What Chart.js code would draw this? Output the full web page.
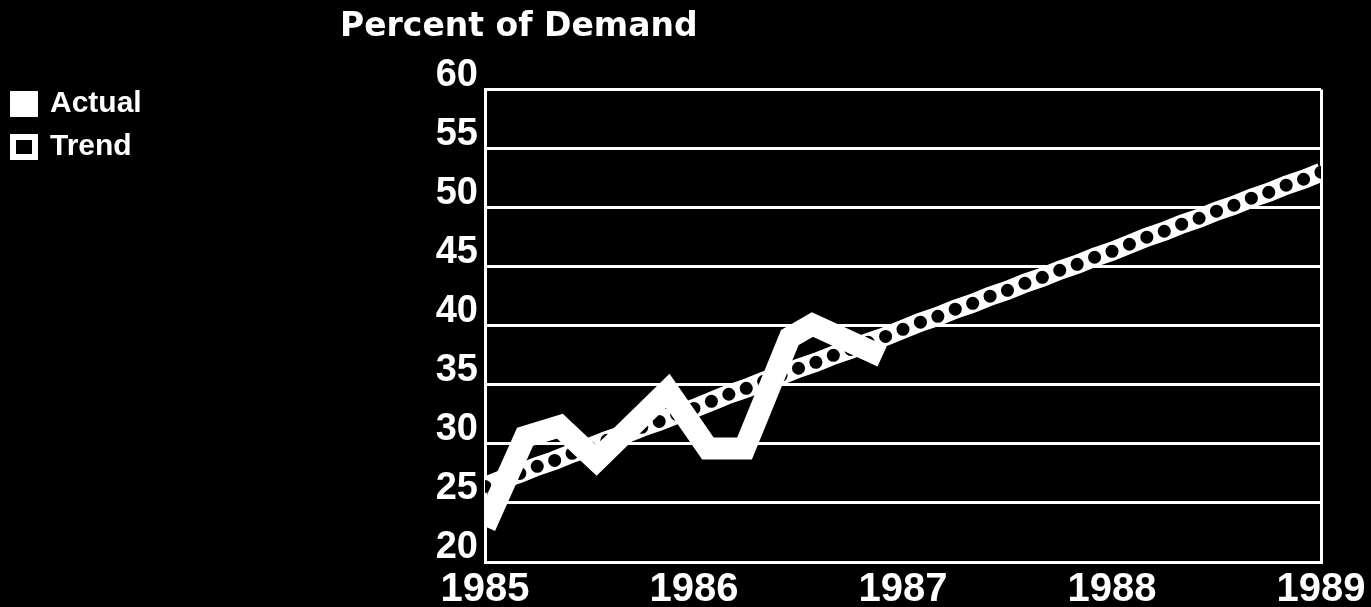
<!DOCTYPE html>
<html>
<head>
<meta charset="utf-8">
<title>Percent of Demand</title>
<script src="https://cdn.jsdelivr.net/npm/chart.js@4"></script>
<style>
  html, body { margin: 0; padding: 0; background: #000; }
  #wrap { width: 1371px; height: 607px; position: relative; }
</style>
</head>
<body>
<div id="wrap"><canvas id="demandChart"></canvas></div>
<script>
const yearLabels = ['1985', '1986', '1987', '1988', '1989'];

// months after Jan 1985 where the actual curve bends
const actualMonths = [0, 2.3, 4.3, 6.4, 10.5, 12.8, 14.9, 17.5, 18.8, 22.8];
const actualValues = [23.0, 30.6, 31.5, 28.6, 34.5, 29.6, 29.6, 39.0, 40.1, 37.4];

// monthly trend, Jan 1985 .. Jan 1989
const trendValues = [
  26.4, 27.0, 27.5, 28.1, 28.6, 29.2, 29.7, 30.3, 30.8, 31.4, 31.9, 32.5,
  33.0, 33.6, 34.2, 34.7, 35.3, 35.8, 36.4, 36.9, 37.5, 38.0, 38.6, 39.1,
  39.7, 40.3, 40.8, 41.4, 41.9, 42.5, 43.0, 43.6, 44.1, 44.7, 45.2, 45.8,
  46.3, 46.9, 47.5, 48.0, 48.6, 49.1, 49.7, 50.2, 50.8, 51.3, 51.9, 52.4,
  53.0
];

const PLOT_LEFT = 485;
const PLOT_TOP = 89.5;
const X_AXIS_HEIGHT = 45;

Chart.defaults.color = '#fff';
Chart.defaults.font.family = '"Liberation Sans", Arial, sans-serif';
Chart.defaults.font.weight = 'bold';

const titlePlugin = {
  id: 'sideTitle',
  afterDraw(chart) {
    const ctx = chart.ctx;
    ctx.save();
    ctx.fillStyle = '#fff';
    ctx.font = 'bold 33px "DejaVu Sans"';
    ctx.textBaseline = 'alphabetic';
    ctx.fillText('Percent of Demand', 340, 36);
    ctx.restore();
  }
};

const dataConfig = {
  datasets: [{
    label: 'Actual',
    data: actualMonths.map((m, i) => ({ x: m, y: actualValues[i] })),
    borderColor: '#fff',
    backgroundColor: '#fff',
    borderWidth: 22,
    borderJoinStyle: 'miter',
    borderCapStyle: 'butt',
    pointRadius: 0,
    tension: 0,
    clip: 0
  }, {
    label: 'Trend',
    data: trendValues.map((v, i) => ({ x: i, y: v })),
    borderColor: '#fff',
    backgroundColor: '#000',
    borderWidth: 19,
    borderCapStyle: 'butt',
    pointRadius: 6.5,
    pointBackgroundColor: '#000',
    pointBorderWidth: 0,
    tension: 0,
    clip: 0
  }]
};

const config = {
  type: 'line',
  data: dataConfig,
  plugins: [titlePlugin],
  options: {
    responsive: true,
    maintainAspectRatio: false,
    animation: false,
    layout: { padding: { top: 76, right: 50, bottom: 0, left: 0 } },
    plugins: {
      tooltip: { enabled: false },
      legend: {
        position: 'left',
        align: 'start',
        labels: {
          boxWidth: 22,
          boxHeight: 20,
          padding: 13,
          color: '#fff',
          font: { size: 30, weight: 'bold' },
          generateLabels: chart => chart.data.datasets.map((ds, i) => ({
            text: ds.label,
            fillStyle: ds.backgroundColor,
            strokeStyle: '#fff',
            lineWidth: 6,
            fontColor: '#fff',
            datasetIndex: i
          }))
        }
      }
    },
    scales: {
      x: {
        type: 'linear',
        min: 0,
        max: 48,
        border: { display: true, color: '#fff', width: 3 },
        grid: {
          drawTicks: false,
          lineWidth: 3,
          color: ctx => (ctx.tick && ctx.tick.value === 48) ? '#fff' : 'transparent'
        },
        ticks: {
          stepSize: 12,
          autoSkip: false,
          maxRotation: 0,
          padding: 8,
          color: '#fff',
          font: { size: 40, weight: 'bold', lineHeight: 1 },
          callback: v => yearLabels[v / 12]
        },
        afterFit(scale) {
          scale.height = X_AXIS_HEIGHT;
          scale.paddingLeft = 0;
          scale.paddingRight = 0;
        }
      },
      y: {
        min: 20,
        max: 60,
        border: { display: true, color: '#fff', width: 3 },
        grid: { drawTicks: false, lineWidth: 3, color: '#fff' },
        ticks: {
          stepSize: 5,
          padding: 7,
          labelOffset: -14,
          color: '#fff',
          font: { size: 38, weight: 'bold' }
        },
        afterFit(scale) {
          const lg = scale.chart.legend;
          const legendWidth = (lg && lg.width) ? lg.width : 160;
          scale.width = PLOT_LEFT - legendWidth;
          scale.paddingTop = PLOT_TOP;
          scale.paddingBottom = 0;
        }
      }
    }
  }
};

new Chart(document.getElementById('demandChart'), config);
</script>
</body>
</html>
